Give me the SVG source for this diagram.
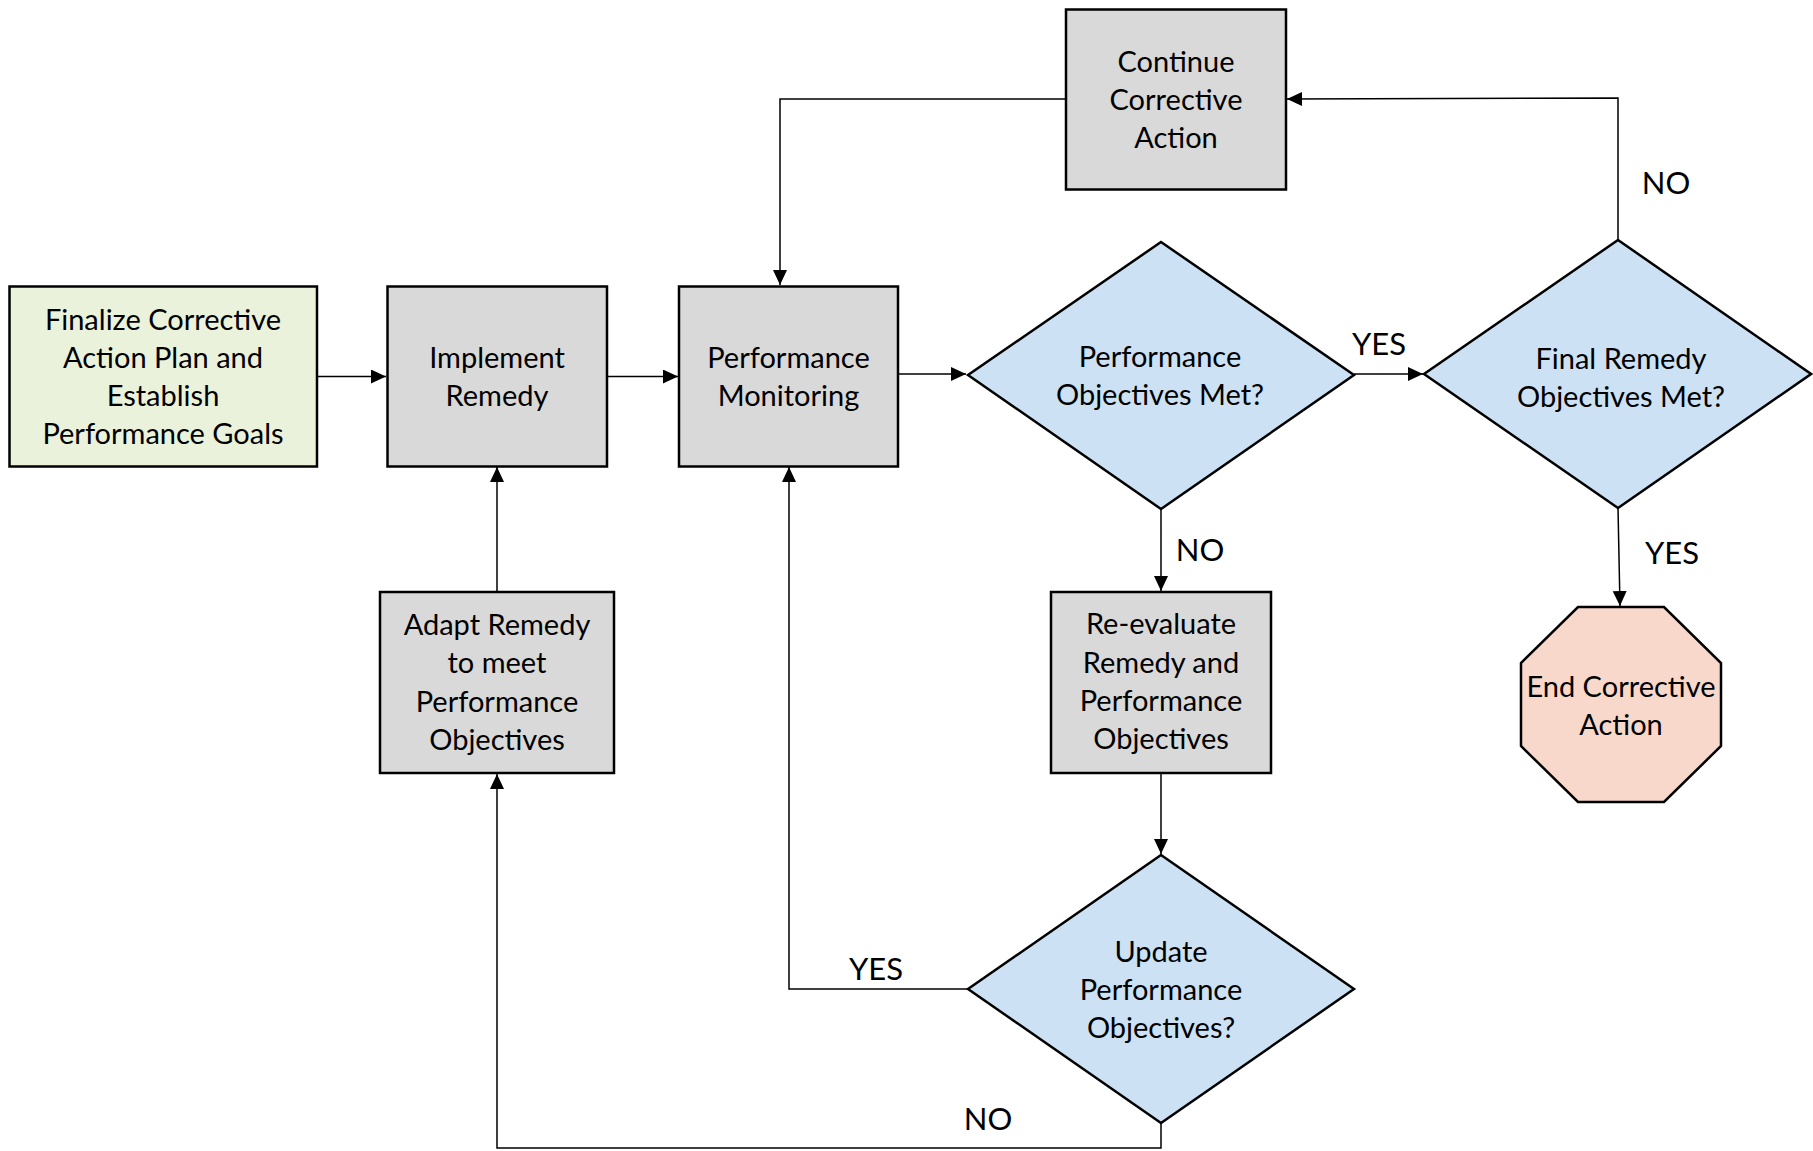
<svg xmlns="http://www.w3.org/2000/svg" width="1813" height="1151" viewBox="0 0 1813 1151">
<style>
  .box{stroke:#000;stroke-width:2.5}
  .gray{fill:#D9D9D9}
  .green{fill:#EAF2DC}
  .blue{fill:#CCE2F4}
  .salmon{fill:#F8D8CB}
  .t{font-family:Lato,"Open Sans",sans-serif;font-size:29px;fill:#000;text-anchor:middle}
  .lbl{font-family:Lato,"Open Sans",sans-serif;font-size:31px;fill:#000;text-anchor:middle}
  .c{fill:none;stroke:#000;stroke-width:1.5}
</style>
<defs>
  <marker id="ah" markerUnits="userSpaceOnUse" markerWidth="16" markerHeight="15" refX="15" refY="7" orient="auto">
    <path d="M0,0 L15,7 L0,14 z" fill="#000"/>
  </marker>
</defs>
<rect width="1813" height="1151" fill="#fff"/>

<g id="connectors">
  <path class="c" d="M317,376.5 H386" marker-end="url(#ah)"/>
  <path class="c" d="M607,376.5 H678" marker-end="url(#ah)"/>
  <path class="c" d="M898,374 H966" marker-end="url(#ah)"/>
  <path class="c" d="M1354,374 H1423" marker-end="url(#ah)"/>
  <path class="c" d="M1618,240 V98 L1287,99" marker-end="url(#ah)"/>
  <path class="c" d="M1066,99 H780 V285" marker-end="url(#ah)"/>
  <path class="c" d="M1161,509 V591" marker-end="url(#ah)"/>
  <path class="c" d="M1161,773 V854" marker-end="url(#ah)"/>
  <path class="c" d="M968,989 H789 V467" marker-end="url(#ah)"/>
  <path class="c" d="M1161,1123 V1148 H497 V774" marker-end="url(#ah)"/>
  <path class="c" d="M497,592 V467" marker-end="url(#ah)"/>
  <path class="c" d="M1618,508 L1620,606" marker-end="url(#ah)"/>
  <text class="lbl" x="1379" y="355">YES</text>
  <text class="lbl" x="1666" y="194">NO</text>
  <text class="lbl" x="1200" y="561">NO</text>
  <text class="lbl" x="1672" y="564">YES</text>
  <text class="lbl" x="876" y="980">YES</text>
  <text class="lbl" x="988" y="1130">NO</text>
</g>

<g id="finalize">
  <rect class="box green" x="9.5" y="286.5" width="307.5" height="180"/>
  <text class="t" x="163" y="330">Finalize Corrective</text>
  <text class="t" x="163" y="368">Action Plan and</text>
  <text class="t" x="163" y="406">Establish</text>
  <text class="t" x="163" y="444">Performance Goals</text>
</g>

<g id="implement">
  <rect class="box gray" x="387.5" y="286.5" width="219.5" height="180"/>
  <text class="t" x="497" y="368">Implement</text>
  <text class="t" x="497" y="406">Remedy</text>
</g>

<g id="monitoring">
  <rect class="box gray" x="679" y="286.5" width="219" height="180"/>
  <text class="t" x="788.5" y="368">Performance</text>
  <text class="t" x="788.5" y="406">Monitoring</text>
</g>

<g id="continue">
  <rect class="box gray" x="1066" y="9.5" width="220" height="180"/>
  <text class="t" x="1176" y="72">Continue</text>
  <text class="t" x="1176" y="110">Corrective</text>
  <text class="t" x="1176" y="148">Action</text>
</g>

<g id="perf-met">
  <polygon class="box blue" points="1161,242 1354,375 1161,509 968,375"/>
  <text class="t" x="1160" y="367">Performance</text>
  <text class="t" x="1160" y="405">Objectives Met?</text>
</g>

<g id="final-met">
  <polygon class="box blue" points="1618,240 1811,374 1618,508 1424,374"/>
  <text class="t" x="1621" y="369">Final Remedy</text>
  <text class="t" x="1621" y="407">Objectives Met?</text>
</g>

<g id="adapt">
  <rect class="box gray" x="380" y="592" width="234" height="181"/>
  <text class="t" x="497" y="635">Adapt Remedy</text>
  <text class="t" x="497" y="673">to meet</text>
  <text class="t" x="497" y="712">Performance</text>
  <text class="t" x="497" y="750">Objectives</text>
</g>

<g id="reevaluate">
  <rect class="box gray" x="1051" y="592" width="220" height="181"/>
  <text class="t" x="1161" y="634">Re-evaluate</text>
  <text class="t" x="1161" y="673">Remedy and</text>
  <text class="t" x="1161" y="711">Performance</text>
  <text class="t" x="1161" y="749">Objectives</text>
</g>

<g id="update">
  <polygon class="box blue" points="1161,855 1354,989 1161,1123 968,989"/>
  <text class="t" x="1161" y="962">Update</text>
  <text class="t" x="1161" y="1000">Performance</text>
  <text class="t" x="1161" y="1038">Objectives?</text>
</g>

<g id="end">
  <polygon class="box salmon" points="1578,607 1664,607 1721,663 1721,746 1664,802 1578,802 1521,746 1521,663"/>
  <text class="t" x="1621" y="697">End Corrective</text>
  <text class="t" x="1621" y="735">Action</text>
</g>
</svg>
